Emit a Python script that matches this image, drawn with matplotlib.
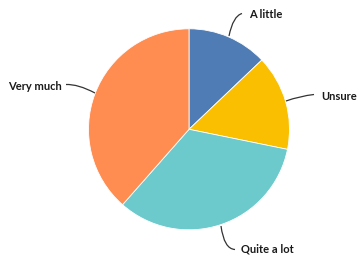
import matplotlib.pyplot as plt
from matplotlib.path import Path
from matplotlib.patches import PathPatch

# Datos
labels = ["A little", "Unsure", "Quite a lot", "Very much"]
values = [12.9, 15.3, 33.3, 38.5]
colors = ["#4F7CB4", "#F9BF00", "#6CC9CC", "#FF8C50"]

fig = plt.figure(figsize=(3.57, 2.56), dpi=100)
ax = fig.add_axes([0, 0, 1, 1])

ax.pie(values, colors=colors, startangle=90, counterclock=False,
       center=(189, 126.7), radius=100.5, frame=True,
       wedgeprops={"edgecolor": "white", "linewidth": 0.6})
ax.set_xlim(0, 357)
ax.set_ylim(0, 256)
ax.set_aspect("equal")
ax.axis("off")

H = 256
# lineas guia: inicio en el borde, punto de control, fin; texto (x, y, ha)
guias = {
    "A little": ((229, 36), (233, 16), (242, 13.5), (249, 15, "left")),
    "Unsure": ((286, 101), (300, 96), (314, 94.5), (321, 96, "left")),
    "Very much": ((95, 93), (78, 84), (66, 84.5), (62, 86, "right")),
    "Quite a lot": ((221, 226), (224, 249), (235, 249.5), (241, 249, "left")),
}
for lab in labels:
    p0, c, p1, (tx, ty, ha) = guias[lab]
    verts = [(p0[0], H - p0[1]), (c[0], H - c[1]), (p1[0], H - p1[1])]
    path = Path(verts, [Path.MOVETO, Path.CURVE3, Path.CURVE3])
    ax.add_patch(PathPatch(path, fill=False, edgecolor="#333333", lw=0.9))
    ax.text(tx, H - ty, lab, ha=ha, va="center", fontsize=8,
            fontweight="bold", family="Lato", color="#1a1a1a")

fig.savefig("out.png", dpi=100)
